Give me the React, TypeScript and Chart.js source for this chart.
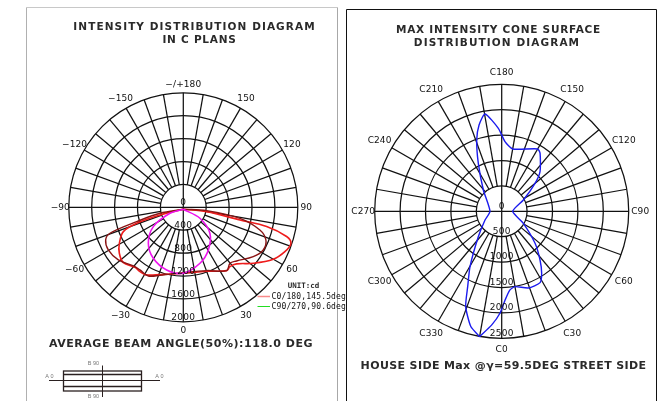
import React, { useEffect, useRef } from "react";
import { Chart, registerables } from "chart.js";

Chart.register(...registerables);

const W = 668;
const H = 401;

// Left diagram: intensity (cd) against gamma angle
const leftRingValues = [400, 800, 1200, 1600, 2000];
const leftRadialLabels = ["0", "400", "800", "1200", "1600", "2000"];
const leftAngleValues = [-150, -120, -90, -60, -30, 0, 30, 60, 90, 120, 150, 180];
const leftAngleLabels = ["\u2212150", "\u2212120", "\u221290", "\u221260", "\u221230", "0", "30", "60", "90", "120", "150", "\u2212/+180"];

const c0Angles = [0, 79.5, 77.4, 77, 74.2, 71.5, 66.4, 60, 51.3, 43.3, 38.2, 34.4, 20, 0, -19, -28.9, -34, -38.9, -47.3, -54.3, -60.6, -67.9, -71.1, -71.8, 0];
const c0Values = [35, 414, 1014, 1494, 1875, 1982, 1936, 1814, 1565, 1358, 1318, 1340, 1189, 1152, 1244, 1349, 1354, 1345, 1425, 1376, 1282, 1130, 861, 428, 35];

const c0DarkAngles = [0, 81.9, 79, 73.5, 68.4, 61.9, 54.8, 44.8, 39.8, 34.4, 20.2, 0, -18.9, -27, -34.7, -40.4, -51, -60.4, -67.2, -70.5, -72.9, -75.6, 0];
const c0DarkValues = [35, 412, 1008, 1395, 1552, 1583, 1495, 1321, 1273, 1340, 1178, 1141, 1255, 1346, 1330, 1346, 1461, 1507, 1471, 1358, 852, 421, 35];

const c90Angles = [0, 56.6, 45.7, 30.4, 16.6, 0, -14.9, -30.5, -44.2, -57.2, -65.8, 0];
const c90Values = [35, 348, 649, 864, 1020, 1152, 1132, 1033, 876, 623, 255, 35];

// Right diagram: max intensity per C plane
const rightRingValues = [500, 1000, 1500, 2000, 2500];
const rightRadialLabels = ["0", "500", "1000", "1500", "2000", "2500"];
const rightAngleValues = [0, 30, 60, 90, 120, 150, 180, 210, 240, 270, 300, 330];
const rightAngleLabels = ["C0", "C30", "C60", "C90", "C120", "C150", "C180", "C210", "C240", "C270", "C300", "C330"];

const coneAngles = [350, 355, 359, 362.2, 366, 370, 379.2, 388.3, 392.8, 398.2, 406.2, 421, 450, 477.6, 490, 496, 506.5, 510, 530, 537.3, 542.3, 549.7, 554.7, 559.3, 566, 580.7, 630, 657.5, 677.3, 690.2, 695.7, 699.3, 705, 710];
const coneValues = [2506, 2245, 2008, 1747, 1556, 1506, 1598, 1594, 1452, 1220, 910, 487, 216, 481, 857, 1086, 1369, 1417, 1246, 1373, 1635, 1944, 1757, 1488, 1050, 554, 230, 370, 677, 1255, 1627, 2006, 2349, 2506];

const legendItems = ["C0/180,145.5deg", "C90/270,90.6deg"];
const legendColors = ["#f88a8a", "#22dd22"];

const polar = (angles: number[], values: number[]) =>
  angles.map((a, i) => ({
    x: values[i] * Math.sin((a * Math.PI) / 180),
    y: -values[i] * Math.cos((a * Math.PI) / 180),
  }));

const sans = '"DejaVu Sans"';
const ink = "#111";

type Text = { s: string; x: number; y: number; font: string; color?: string; spacing?: number; align?: CanvasTextAlign };

function text(ctx: CanvasRenderingContext2D, t: Text) {
  ctx.save();
  ctx.font = t.font;
  ctx.fillStyle = t.color ?? ink;
  ctx.textAlign = t.align ?? "center";
  ctx.textBaseline = "middle";
  (ctx as any).letterSpacing = (t.spacing ?? 0) + "px";
  ctx.fillText(t.s, t.x, t.y);
  ctx.restore();
}

function line(ctx: CanvasRenderingContext2D, x1: number, y1: number, x2: number, y2: number, color = ink, w = 1.25) {
  ctx.beginPath();
  ctx.strokeStyle = color;
  ctx.lineWidth = w;
  ctx.moveTo(x1, y1);
  ctx.lineTo(x2, y2);
  ctx.stroke();
}

type Dial = {
  rings: number[];
  radial: string[];
  radialValues: number[];
  angleValues: number[];
  angleLabels: string[];
  labelRadius: number;
  radialOffset: number;
};

function dialPlugin(d: Dial, extra: (ctx: CanvasRenderingContext2D) => void) {
  return {
    id: "dial",
    beforeDatasetsDraw(chart: any) {
      const ctx: CanvasRenderingContext2D = chart.ctx;
      const sx = chart.scales.x;
      const sy = chart.scales.y;
      const cx = sx.getPixelForValue(0);
      const cy = sy.getPixelForValue(0);
      const rad = (v: number) => sx.getPixelForValue(v) - cx;
      const inner = rad(d.rings[0]);
      const outer = rad(d.rings[d.rings.length - 1]);
      ctx.save();
      ctx.strokeStyle = ink;
      ctx.lineWidth = 1.25;
      d.rings.forEach((v) => {
        ctx.beginPath();
        ctx.arc(cx, cy, rad(v), 0, Math.PI * 2);
        ctx.stroke();
      });
      for (let a = 0; a < 360; a += 10) {
        const t = (a * Math.PI) / 180;
        const from = a % 90 === 0 ? 0 : inner;
        line(ctx, cx + from * Math.sin(t), cy + from * Math.cos(t), cx + outer * Math.sin(t), cy + outer * Math.cos(t));
      }
      d.angleValues.forEach((a, i) => {
        const t = (a * Math.PI) / 180;
        const raw = d.labelRadius;
        const rr = a % 180 === 0 || a === 90 || a === -90 || a === 270 ? raw - 2.5 : raw;
        text(ctx, {
          s: d.angleLabels[i],
          x: cx + rr * Math.sin(t),
          y: cy + rr * Math.cos(t),
          font: `9px ${sans}`,
          spacing: 0.1,
        });
      });
      ctx.restore();
    },
    afterDatasetsDraw(chart: any) {
      const ctx: CanvasRenderingContext2D = chart.ctx;
      const sx = chart.scales.x;
      const sy = chart.scales.y;
      d.radial.forEach((s, i) => {
        text(ctx, {
          s,
          x: sx.getPixelForValue(0),
          y: sy.getPixelForValue(-d.radialValues[i]) - d.radialOffset,
          font: `9px ${sans}`,
          spacing: 0.3,
        });
      });
      extra(ctx);
    },
  };
}

function leftExtras(ctx: CanvasRenderingContext2D) {
  line(ctx, 26.5, 7.5, 337.5, 7.5, "#c8c8c8", 1);
  line(ctx, 26.5, 7.5, 26.5, H, "#b0b0b0", 1);
  line(ctx, 337.5, 7.5, 337.5, H, "#a8a8a8", 1);
  const title = `bold 10.5px ${sans}`;
  text(ctx, { s: "INTENSITY DISTRIBUTION DIAGRAM", x: 194.5, y: 27.5, font: title, color: "#2a2a2a", spacing: 1.08 });
  text(ctx, { s: "IN C PLANS", x: 199.5, y: 40, font: title, color: "#2a2a2a", spacing: 0.75 });
  text(ctx, { s: "AVERAGE BEAM ANGLE(50%):118.0 DEG", x: 181, y: 344, font: `bold 11px ${sans}`, color: "#2a2a2a", spacing: 0.53 });

  const mono = '"DejaVu Sans Mono"';
  text(ctx, { s: "UNIT:cd", x: 303.5, y: 286.5, font: `bold 7.5px ${mono}`, color: "#2a2a2a" });
  legendItems.forEach((s, i) => {
    const y = 296.5 + i * 10;
    line(ctx, 257.5, y, 270, y, legendColors[i], i === 0 ? 1.5 : 1);
    text(ctx, { s, x: 271.5, y, font: `8px ${mono}`, align: "left", color: ink, spacing: 0.15 });
  });

  // luminaire sketch
  ctx.lineWidth = 1.3;
  ctx.strokeStyle = "#2a2020";
  ctx.strokeRect(63.5, 371, 78, 20);
  line(ctx, 63.5, 374.5, 141.5, 374.5, "#2a2020", 1.3);
  line(ctx, 63.5, 386.5, 141.5, 386.5, "#2a2020", 1.3);
  line(ctx, 49, 380.5, 160, 380.5, "#2a2020", 1);
  line(ctx, 102.5, 365.5, 102.5, 397, "#2a2020", 1);
  const small = '5.5px "Liberation Sans"';
  text(ctx, { s: "B 90", x: 93.5, y: 363, font: small, color: "#777" });
  text(ctx, { s: "B 90", x: 93.5, y: 396, font: small, color: "#777" });
  text(ctx, { s: "A 0", x: 49.5, y: 376, font: small, color: "#777" });
  text(ctx, { s: "A 0", x: 159.5, y: 376.5, font: small, color: "#777" });
}

function rightExtras(ctx: CanvasRenderingContext2D) {
  line(ctx, 346.5, 9.5, 656.5, 9.5, ink, 1);
  line(ctx, 346.5, 9.5, 346.5, H, ink, 1);
  line(ctx, 656.5, 9.5, 656.5, H, ink, 1);
  const title = `bold 10.5px ${sans}`;
  text(ctx, { s: "MAX INTENSITY CONE SURFACE", x: 498.5, y: 30.5, font: title, color: "#2a2a2a", spacing: 0.75 });
  text(ctx, { s: "DISTRIBUTION DIAGRAM", x: 497, y: 43, font: title, color: "#2a2a2a", spacing: 1.1 });
  text(ctx, { s: "HOUSE SIDE Max @\u03b3=59.5DEG STREET SIDE", x: 503.5, y: 366, font: `bold 11px ${sans}`, color: "#2a2a2a", spacing: 0.38 });
}

function makeChart(
  canvas: HTMLCanvasElement,
  cx: number,
  cy: number,
  radius: number,
  fullValue: number,
  datasets: any[],
  dial: Dial,
  extra: (ctx: CanvasRenderingContext2D) => void
) {
  const k = fullValue / radius;
  return new Chart(canvas, {
    type: "scatter",
    data: { datasets },
    options: {
      responsive: false,
      animation: false,
      maintainAspectRatio: false,
      layout: { padding: 0 },
      plugins: { legend: { display: false }, tooltip: { enabled: false } },
      scales: {
        x: { type: "linear", display: false, min: -cx * k, max: (W - cx) * k },
        y: { type: "linear", display: false, min: -(H - cy) * k, max: cy * k },
      },
      elements: { point: { radius: 0 } },
    },
    plugins: [dialPlugin(dial, extra)],
  } as any);
}

const curve = (data: any[], color: string, width: number, tension = 0.35) => ({
  data,
  showLine: true,
  borderColor: color,
  borderWidth: width,
  tension,
  pointRadius: 0,
  fill: false,
});

export default function App() {
  const leftRef = useRef<HTMLCanvasElement>(null);
  const rightRef = useRef<HTMLCanvasElement>(null);

  useEffect(() => {
    const left = makeChart(
      leftRef.current!,
      183.3,
      207.3,
      114.5,
      2000,
      [
        curve(polar(c90Angles, c90Values), "#ee11ee", 1.6),
        curve(polar(c0DarkAngles, c0DarkValues), "#8a1414", 1.4),
        curve(polar(c0Angles, c0Values), "#ee1c1c", 1.6),
      ],
      {
        rings: leftRingValues,
        radial: leftRadialLabels,
        radialValues: [0, ...leftRingValues],
        angleValues: leftAngleValues,
        angleLabels: leftAngleLabels,
        labelRadius: 125.5,
        radialOffset: 4.5,
      },
      leftExtras
    );
    const right = makeChart(
      rightRef.current!,
      501.7,
      211.3,
      127,
      2500,
      [curve(polar(coneAngles, coneValues), "#1a1aee", 1.4, 0.2)],
      {
        rings: rightRingValues,
        radial: rightRadialLabels,
        radialValues: [0, ...rightRingValues],
        angleValues: rightAngleValues,
        angleLabels: rightAngleLabels,
        labelRadius: 141,
        radialOffset: 5,
      },
      rightExtras
    );
    return () => {
      left.destroy();
      right.destroy();
    };
  }, []);

  const style: React.CSSProperties = { position: "absolute", left: 0, top: 0, width: W, height: H };
  return (
    <div style={{ position: "absolute", left: 0, top: 0, width: W, height: H, background: "#fff", overflow: "hidden", filter: "blur(0.3px)" }}>
      <canvas ref={leftRef} width={W} height={H} style={style} />
      <canvas ref={rightRef} width={W} height={H} style={style} />
    </div>
  );
}
